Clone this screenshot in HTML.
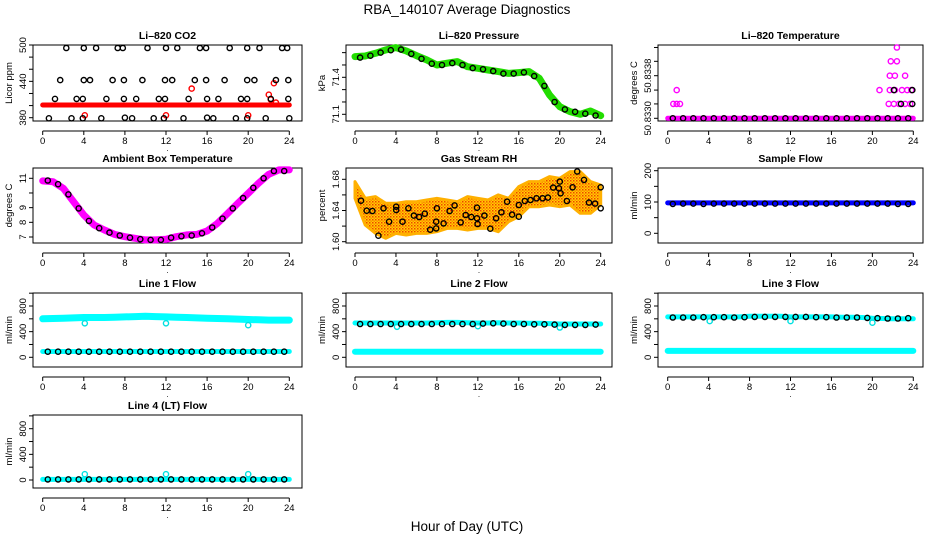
<!DOCTYPE html>
<html><head><meta charset="utf-8"><style>
html,body{margin:0;padding:0;background:#fff;}
svg{display:block;font-family:"Liberation Sans",sans-serif;}
</style></head><body>
<svg id="chart" width="936" height="540" viewBox="0 0 936 540" xmlns="http://www.w3.org/2000/svg">
<defs>
<pattern id="rhpat" width="3" height="3" patternUnits="userSpaceOnUse">
<rect width="3" height="3" fill="#ffd200"/><rect x="0" y="0" width="1.5" height="1.5" fill="#f04000"/><rect x="1.5" y="1.5" width="1.5" height="1.5" fill="#ff8a00"/>
</pattern>
</defs>
<text x="467" y="14" font-size="13.5" text-anchor="middle">RBA_140107  Average Diagnostics</text>
<text x="467" y="531" font-size="13.5" text-anchor="middle">Hour of Day (UTC)</text>
<g id="panels"></g>
</svg>
<script>
// ---- data arrays ----
const hourly = [0,1,2,3,4,5,6,7,8,9,10,11,12,13,14,15,16,17,18,19,20,21,22,23,24];
const halfHours = [0.5,1.5,2.5,3.5,4.5,5.5,6.5,7.5,8.5,9.5,10.5,11.5,12.5,13.5,14.5,15.5,16.5,17.5,18.5,19.5,20.5,21.5,22.5,23.5];

const co2Red = [401,401,401,401,401,401,401,401,401,401,401,401,401,401,401,401,401,401,401,401,401,401,401,401,401];
const co2RedOutHours = [4.1,12.0,14.5,20.0,22.0,22.2,22.5,22.7];
const co2RedOutVals = [384,384,428,384,418,410,437,405];
const co2BlackHours = [2.3,4.0,5.2,7.3,7.8,10.2,12.0,13.1,15.3,15.9,18.2,19.9,21.1,23.3,23.8,
  1.7,4.0,4.6,6.8,7.9,9.7,11.9,12.6,14.8,15.9,17.7,19.9,20.6,22.7,23.9,
  1.2,3.3,3.9,6.2,7.9,9.1,11.3,11.9,14.2,16.0,17.1,19.3,19.9,22.2,23.9,
  0.6,2.8,3.9,5.7,8.0,8.7,10.8,11.8,13.7,16.0,16.6,18.8,19.9,21.7,24.0];
const co2BlackVals = [495,495,495,495,495,495,495,495,495,495,495,495,495,495,495,
  442,442,442,442,442,442,442,442,442,442,442,442,442,442,442,
  411,411,411,411,411,411,411,411,411,411,411,411,411,411,411,
  379,379,379,379,380,379,379,379,379,380,379,379,379,379,379];

const presGreen = [71.568,71.573,71.595,71.622,71.641,71.614,71.576,71.541,71.50,71.514,71.527,71.486,71.473,71.459,71.446,71.432,71.438,71.446,71.392,71.257,71.162,71.122,71.10,71.127,71.089];
const presBlack = [71.56,71.575,71.6,71.62,71.625,71.59,71.55,71.51,71.5,71.515,71.5,71.475,71.465,71.45,71.43,71.43,71.44,71.41,71.33,71.2,71.14,71.12,71.105,71.09];

const ltLevels = [50.83300,50.83327,50.83353,50.83380,50.83407,50.83433];
const ltMagHours = [0.55,0.88,1.2,0.88,20.7,21.7,22.2,22.9,23.4,23.8,21.6,22.1,22.6,23.2,23.7,21.7,22.2,23.2,21.8,22.4,22.4];
const ltMagVals = [50.83327,50.83327,50.83327,50.83353,50.83353,50.83353,50.83353,50.83353,50.83353,50.83353,50.83327,50.83327,50.83327,50.83327,50.83327,50.83380,50.83380,50.83380,50.83407,50.83407,50.83433];
const ltBase = [50.833,50.833,50.833,50.833,50.833,50.833,50.833,50.833,50.833,50.833,50.833,50.833,50.833,50.833,50.833,50.833,50.833,50.833,50.833,50.833,50.833,50.833,50.833,50.833,50.833];
const ltBlackHours = [22.1,23.9,22.8,23.9];
const ltBlackVals = [50.83353,50.83353,50.83327,50.83327];
const ltBlackBase = [50.833,50.833,50.833,50.833,50.833,50.833,50.833,50.833,50.833,50.833,50.833,50.833,50.833,50.833,50.833,50.833,50.833,50.833,50.833,50.833,50.833,50.833,50.833,50.833];

const ambMagenta = [10.82,10.77,10.32,9.41,8.5,7.82,7.48,7.18,7.02,6.91,6.8,6.8,6.84,7.02,7.14,7.18,7.41,7.93,8.61,9.3,9.98,10.66,11.27,11.57,11.57];
const ambBlack = [10.85,10.6,9.9,8.95,8.1,7.6,7.3,7.1,6.95,6.85,6.8,6.8,6.95,7.05,7.1,7.25,7.65,8.25,8.95,9.65,10.35,11.0,11.5,11.5];

const rhUpper = [1.677,1.6556,1.6578,1.6492,1.6492,1.6513,1.6513,1.6535,1.6556,1.6535,1.6513,1.6578,1.6556,1.6535,1.66,1.6556,1.6706,1.677,1.677,1.6834,1.6813,1.6899,1.6899,1.677,1.6727];
const rhLower = [1.6556,1.6214,1.6107,1.6043,1.6107,1.6086,1.6107,1.6107,1.6128,1.6171,1.6171,1.615,1.6171,1.6171,1.6128,1.6257,1.6321,1.6449,1.6449,1.6471,1.6449,1.6471,1.6364,1.6364,1.6471];
const rhBlackHours = [0.59,1.14,1.70,2.29,2.78,3.33,4.02,4.02,4.64,5.22,5.75,6.27,6.82,7.35,7.93,8.0,7.93,8.65,9.24,9.73,10.32,10.81,11.36,11.92,11.92,11.98,12.64,13.22,13.78,14.30,14.86,15.35,16.0,16.0,16.59,17.14,17.73,18.32,18.84,19.36,19.92,20.0,20.08,20.70,21.26,21.7,22.37,22.86,23.45,24.0,24.0];
const rhBlackVals = [1.6526,1.6398,1.6394,1.6077,1.6428,1.6257,1.6449,1.6407,1.6257,1.6428,1.6334,1.6317,1.6359,1.6154,1.6257,1.6428,1.6171,1.6235,1.6394,1.6466,1.6248,1.6342,1.6317,1.6436,1.63,1.6227,1.6334,1.6167,1.63,1.6377,1.6513,1.6347,1.6471,1.6321,1.6522,1.6535,1.6556,1.6556,1.6565,1.6693,1.6685,1.677,1.662,1.6522,1.6697,1.69,1.6792,1.6501,1.6488,1.6697,1.6428];

const sampleBlue = [97,97,97,97,97,97,97,97,97,97,97,97,97,97,97,97,97,97,97,97,97,97,97,97,97];
const sampleBlack = [94,95,95,94,95,95,95,95,95,95,95,95,95,95,95,95,95,95,95,95,95,95,94,94];

const line1Cyan = [600,605,610,615,620,620,620,625,630,635,640,635,630,625,620,615,610,605,600,595,590,585,580,580,580];
const line1CyanLow = [90,90,90,90,90,90,90,90,90,90,90,90,90,90,90,90,90,90,90,90,90,90,90,90,90];
const line1Black = [88,88,88,88,88,88,88,88,88,88,88,88,88,88,88,88,88,88,88,88,88,88,88,88];
const line2Cyan = [535,535,535,535,535,535,535,535,540,545,545,540,535,535,540,535,535,530,530,525,520,520,520,520,520];
const line2CyanLow = [88,88,88,88,88,88,88,88,88,88,88,88,88,88,88,88,88,88,88,88,88,88,88,88,88];
const line2Black = [520,520,520,520,520,520,520,520,520,520,520,520,525,530,525,520,520,515,515,510,505,505,505,510];
const line3Cyan = [630,630,630,630,630,630,630,630,640,640,640,640,630,630,630,630,630,625,625,620,610,605,600,600,600];
const line3CyanLow = [100,100,100,100,100,100,100,100,100,100,100,100,100,100,100,100,100,100,100,100,100,100,100,100,100];
const line3Black = [620,620,620,625,625,625,620,625,630,630,630,630,630,630,625,625,620,620,620,615,610,605,605,610];
const line4Cyan = [10,10,10,10,10,10,10,10,10,10,10,10,10,10,10,10,10,10,10,10,10,10,10,10,10];
const line4Black = [10,10,10,10,10,10,10,10,10,10,10,10,10,10,10,10,10,10,10,10,10,10,10,10];
const flowOutHours = [4.1,12.0,20.0];
const line1Out = [530,530,500];
const line2Out = [475,485,465];
const line3Out = [565,565,540];
const line4Out = [90,90,90];

const xTicks = [0,4,8,12,16,20,24];
const co2Ticks = [380,400,420,440,460,480,500], co2Labels = ["380","440","500"];
const presTicks = [71.1,71.2,71.3,71.4,71.5,71.6], presLabels = ["71.1","71.4"];
const ltTicks = [50.833,50.83327,50.83353,50.8338,50.83407,50.83433], ltLabels = ["50.8330","50.8338"];
const ambTicks = [7,8,9,10,11], ambLabels = ["7","8","9","11"];
const rhTicks = [1.60,1.62,1.64,1.66,1.68], rhLabels = ["1.60","1.64","1.68"];
const sfTicks = [0,50,100,150,200], sfLabels = ["0","100","200"];
const flowTicks = [0,200,400,600,800,1000], flowLabels = ["0","400","800"];

// ---- drawing ----
const NS = "http://www.w3.org/2000/svg";
const root = document.getElementById("panels");
function mk(tag, parent) { const e = document.createElementNS(NS, tag); parent.appendChild(e); return e; }

function panel(name, title, ylab, box, xr, yv, yp, ticks, labels) {
  const g = mk("g", root);
  
  
  const xs = h => xr[0] + (xr[1] - xr[0]) * h / 24;
  const ys = v => yp[0] + (yp[1] - yp[0]) * (v - yv[0]) / (yv[1] - yv[0]);
  const r = mk("rect", g);
  
  
  r.setAttribute("x", box.L); r.setAttribute("y", box.T);
  r.setAttribute("width", box.R - box.L); r.setAttribute("height", box.B - box.T);
  r.setAttribute("fill", "none"); r.setAttribute("stroke", "#000"); r.setAttribute("stroke-width", "1");
  const t = mk("text", g);
  
  
  t.setAttribute("x", (box.L + box.R) / 2); t.setAttribute("y", box.T - 6);
  t.setAttribute("text-anchor", "middle"); t.setAttribute("font-size", "10.5"); t.setAttribute("font-weight", "bold");
  t.textContent = title;
  // x axis
  const ax = mk("g", g);
  
  
  const ay0 = box.B + 10;
  const al = mk("line", ax);
  al.setAttribute("x1", xs(0)); al.setAttribute("x2", xs(24)); al.setAttribute("y1", ay0); al.setAttribute("y2", ay0); al.setAttribute("stroke", "#000");
  xTicks.forEach(h => {
    const l = mk("line", ax);
    l.setAttribute("x1", xs(h)); l.setAttribute("x2", xs(h)); l.setAttribute("y1", ay0); l.setAttribute("y2", ay0 + 4); l.setAttribute("stroke", "#000");
    const tx = mk("text", ax);
    
    
    tx.setAttribute("x", xs(h)); tx.setAttribute("y", ay0 + 13); tx.setAttribute("text-anchor", "middle"); tx.setAttribute("font-size", "9.5");
    tx.textContent = String(h);
  });
  // y axis
  const yg = mk("g", g);
  
  
  ticks.forEach(v => {
    const l = mk("line", yg);
    l.setAttribute("x1", box.L - 4); l.setAttribute("x2", box.L); l.setAttribute("y1", ys(v)); l.setAttribute("y2", ys(v)); l.setAttribute("stroke", "#000");
  });
  labels.forEach(s => {
    const v = parseFloat(s);
    const tx = mk("text", yg);
    
    
    const x = box.L - 7, y = ys(v);
    tx.setAttribute("x", x); tx.setAttribute("y", y); tx.setAttribute("text-anchor", "middle"); tx.setAttribute("font-size", "9.5");
    tx.setAttribute("transform", "rotate(-90 " + x + " " + y + ")");
    tx.textContent = s;
  });
  const yl = mk("text", g);
  
  
  const yx = box.L - 21, yy = (box.T + box.B) / 2;
  yl.setAttribute("x", yx); yl.setAttribute("y", yy); yl.setAttribute("text-anchor", "middle"); yl.setAttribute("font-size", "9.5");
  yl.setAttribute("transform", "rotate(-90 " + yx + " " + yy + ")");
  yl.textContent = ylab;
  const dot = mk("text", g);
  
  
  dot.setAttribute("x", (box.L + box.R) / 2); dot.setAttribute("y", box.B + 30); dot.setAttribute("font-size", "8"); dot.setAttribute("text-anchor", "middle");
  dot.textContent = ".";
  const clip = mk("g", g);
  return {g, xs, ys};
}

function band(p, name, hours, vals, color, w) {
  const pl = mk("polyline", p.g);
  
  
  pl.setAttribute("points", hours.map((h, i) => p.xs(h).toFixed(1) + "," + p.ys(vals[i]).toFixed(1)).join(" "));
  pl.setAttribute("fill", "none"); pl.setAttribute("stroke", color); pl.setAttribute("stroke-width", w);
  pl.setAttribute("stroke-linejoin", "round"); pl.setAttribute("stroke-linecap", "round");
}
function dots(p, name, hours, vals, color) {
  const g = mk("g", p.g);
  
  
  hours.forEach((h, i) => {
    const c = mk("circle", g);
    
    
    c.setAttribute("cx", p.xs(h).toFixed(1)); c.setAttribute("cy", p.ys(vals[i]).toFixed(1)); c.setAttribute("r", "2.6");
    c.setAttribute("fill", "none"); c.setAttribute("stroke", color); c.setAttribute("stroke-width", "1.4");
  });
}
function area(p, name, hours, up, lo, fill) {
  const pts = hours.map((h, i) => p.xs(h).toFixed(1) + "," + p.ys(up[i]).toFixed(1))
    .concat(hours.slice().reverse().map((h, k) => { const i = hours.length - 1 - k; return p.xs(h).toFixed(1) + "," + p.ys(lo[i]).toFixed(1); }));
  const pg = mk("polygon", p.g);
  
  
  pg.setAttribute("points", pts.join(" ")); pg.setAttribute("fill", fill);
  pg.setAttribute("stroke", "#ffb000"); pg.setAttribute("stroke-width", "3"); pg.setAttribute("stroke-linejoin", "round");
}

const C1 = {L:33, R:302}, C2 = {L:346, R:612}, C3 = {L:658, R:923};
const X1 = [42.7, 289.3], X2 = [355, 600.7], X3 = [667.7, 913.3];
const R1 = {T:45, B:121}, R2 = {T:168, B:243}, R3 = {T:293, B:367}, R4 = {T:415, B:488};
const bx = (c, r) => ({L:c.L, R:c.R, T:r.T, B:r.B});

let p = panel("co2", "Li\u2013820 CO2", "Licor ppm", bx(C1, R1), X1, [380, 500], [117.7, 45], co2Ticks, co2Labels);
band(p, "co2-red-series", hourly, co2Red, "#ff0000", 5);
dots(p, "co2-red-outliers", co2RedOutHours, co2RedOutVals, "#ff0000");
dots(p, "co2-black-series", co2BlackHours, co2BlackVals, "#000");

p = panel("pressure", "Li\u2013820 Pressure", "kPa", bx(C2, R1), X2, [71.1, 71.4], [114.3, 77.3], presTicks, presLabels);
band(p, "pressure-green-series", hourly, presGreen, "#22dd00", 7);
dots(p, "pressure-black-series", halfHours, presBlack, "#000");

p = panel("li820-temp", "Li\u2013820 Temperature", "degrees C", bx(C3, R1), X3, [50.8330, 50.8338], [118.3, 75.7], ltTicks, ltLabels);
band(p, "li820-temp-magenta-base", hourly, ltBase, "#ff00ff", 5);
dots(p, "li820-temp-magenta-points", ltMagHours, ltMagVals, "#ff00ff");
dots(p, "li820-temp-black-base", halfHours, ltBlackBase, "#000");
dots(p, "li820-temp-black-points", ltBlackHours, ltBlackVals, "#000");

p = panel("ambient-temp", "Ambient Box Temperature", "degrees C", bx(C1, R2), X1, [7, 11], [237, 178.3], ambTicks, ambLabels);
band(p, "ambient-magenta-series", hourly, ambMagenta, "#ff00ff", 7);
dots(p, "ambient-black-series", halfHours, ambBlack, "#000");

p = panel("gas-rh", "Gas Stream RH", "percent", bx(C2, R2), X2, [1.60, 1.68], [241.7, 179.3], rhTicks, rhLabels);
area(p, "rh-orange-cloud", hourly, rhUpper, rhLower, "url(#rhpat)");
dots(p, "rh-black-series", rhBlackHours, rhBlackVals, "#000");

p = panel("sample-flow", "Sample Flow", "ml/min", bx(C3, R2), X3, [0, 200], [233.3, 170.7], sfTicks, sfLabels);
band(p, "sample-blue-series", hourly, sampleBlue, "#0000ff", 5);
dots(p, "sample-black-series", halfHours, sampleBlack, "#000");

p = panel("line1-flow", "Line 1 Flow", "ml/min", bx(C1, R3), X1, [0, 800], [357.3, 306], flowTicks, flowLabels);
band(p, "line1-cyan-high", hourly, line1Cyan, "#00ffff", 7);
band(p, "line1-cyan-low", hourly, line1CyanLow, "#00ffff", 5);
dots(p, "line1-cyan-outliers", flowOutHours, line1Out, "#00e0e0");
dots(p, "line1-black-series", halfHours, line1Black, "#000");

p = panel("line2-flow", "Line 2 Flow", "ml/min", bx(C2, R3), X2, [0, 800], [357.3, 306], flowTicks, flowLabels);
band(p, "line2-cyan-high", hourly, line2Cyan, "#00ffff", 5);
band(p, "line2-cyan-low", hourly, line2CyanLow, "#00ffff", 6);
dots(p, "line2-cyan-outliers", flowOutHours, line2Out, "#00e0e0");
dots(p, "line2-black-series", halfHours, line2Black, "#000");

p = panel("line3-flow", "Line 3 Flow", "ml/min", bx(C3, R3), X3, [0, 800], [357.3, 306], flowTicks, flowLabels);
band(p, "line3-cyan-high", hourly, line3Cyan, "#00ffff", 5);
band(p, "line3-cyan-low", hourly, line3CyanLow, "#00ffff", 6);
dots(p, "line3-cyan-outliers", flowOutHours, line3Out, "#00e0e0");
dots(p, "line3-black-series", halfHours, line3Black, "#000");

p = panel("line4-flow", "Line 4 (LT) Flow", "ml/min", bx(C1, R4), X1, [0, 800], [480, 428.7], flowTicks, flowLabels);
band(p, "line4-cyan-series", hourly, line4Cyan, "#00ffff", 5);
dots(p, "line4-cyan-outliers", flowOutHours, line4Out, "#00e0e0");
dots(p, "line4-black-series", halfHours, line4Black, "#000");
</script>
</body></html>
